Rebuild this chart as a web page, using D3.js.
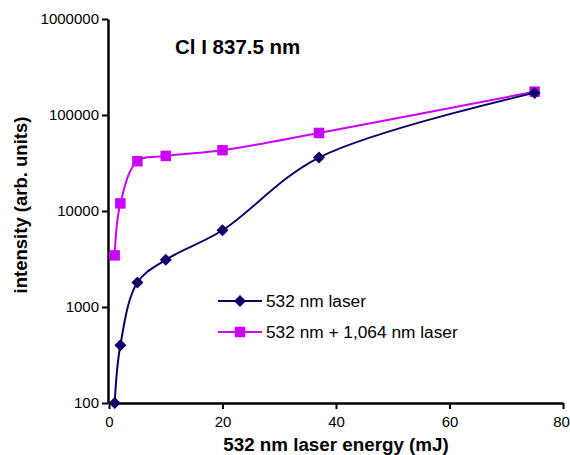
<!DOCTYPE html>
<html>
<head>
<meta charset="utf-8">
<script src="https://cdn.jsdelivr.net/npm/d3@7"></script>
<style>
  body { margin: 0; background: #fff; }
  svg { display: block; font-family: "Liberation Sans", Arial, sans-serif; }
</style>
</head>
<body>
<svg id="vis" width="570" height="455"></svg>
<script>
var energy = [1, 2, 5, 10, 20, 37, 75];
var single = [100, 400, 1800, 3100, 6300, 36000, 170000];
var dual = [3450, 12000, 33000, 37500, 43000, 65000, 175000];
var xTicks = [0, 20, 40, 60, 80];
var yTicks = [100, 1000, 10000, 100000, 1000000];

var prefs = {
  navy: '#0d0066',
  violet: '#cc00ff',
  left: 109,
  right: 563,
  top: 19,
  bottom: 403
};

var svg = d3.select('#vis');

var x = d3.scaleLinear().domain([0, 80]).range([prefs.left, prefs.right]);
var y = d3.scaleLog().domain([100, 1000000]).range([prefs.bottom, prefs.top]);

/* axes */
var xAxis = d3.axisBottom(x).tickValues(xTicks).tickSize(6).tickSizeOuter(0);
var yAxis = d3.axisLeft(y).tickValues(yTicks).tickSize(6).tickSizeOuter(0)
  .tickFormat(d3.format('d'));

var gx = svg.append('g')
  .attr('transform', 'translate(0,' + prefs.bottom + ')')
  .call(xAxis);
var gy = svg.append('g')
  .attr('transform', 'translate(' + (prefs.left - 1) + ',0)')
  .call(yAxis);

[gx, gy].forEach(function(g) {
  g.select('.domain').attr('stroke', '#000').attr('stroke-width', 2.5);
  g.selectAll('.tick line').attr('stroke', '#000').attr('stroke-width', 2);
  g.selectAll('.tick text').attr('fill', '#000').style('font-size', '15px');
});
gx.selectAll('.tick text').attr('dy', '1em').attr('y', 9);
gx.selectAll('.tick text').filter(function(d) { return d === 80; }).attr('x', -2);
gy.selectAll('.tick text').attr('x', -9);

/* axis titles */
svg.append('text')
  .attr('x', 336).attr('y', 451)
  .attr('text-anchor', 'middle')
  .style('font-weight', 'bold').style('font-size', '18.8px')
  .text('532 nm laser energy (mJ)');

svg.append('text')
  .attr('transform', 'translate(27,205) rotate(-90)')
  .attr('text-anchor', 'middle')
  .style('font-weight', 'bold').style('font-size', '18.5px')
  .text('intensity (arb. units)');

svg.append('text')
  .attr('x', 175).attr('y', 54)
  .style('font-weight', 'bold').style('font-size', '20.5px')
  .text('Cl I 837.5 nm');

/* series */
var line = d3.line()
  .x(function(d) { return x(d[0]); })
  .y(function(d) { return y(d[1]); })
  .curve(d3.curveCatmullRom.alpha(0.5));

var series = [
  { name: '532 nm laser', values: single, color: prefs.navy, rotate: 45, size: 72 },
  { name: '532 nm + 1,064 nm laser', values: dual, color: prefs.violet, rotate: 0, size: 110 }
];

function marker(s, cx, cy) {
  return 'translate(' + cx + ',' + cy + ') rotate(' + s.rotate + ')';
}

series.slice().reverse().forEach(function(s) {
  var pts = energy.map(function(e, i) { return [e, s.values[i]]; });

  svg.append('path')
    .datum(pts)
    .attr('d', line)
    .attr('fill', 'none')
    .attr('stroke', s.color)
    .attr('stroke-width', 2);

  svg.selectAll(null)
    .data(pts)
    .enter().append('path')
    .attr('d', d3.symbol().type(d3.symbolSquare).size(s.size))
    .attr('transform', function(d) { return marker(s, x(d[0]), y(d[1])); })
    .attr('fill', s.color);
});

/* legend */
var legend = svg.append('g');
series.forEach(function(s, i) {
  var ly = 301 + i * 31;
  legend.append('line')
    .attr('x1', 218).attr('x2', 262)
    .attr('y1', ly).attr('y2', ly)
    .attr('stroke', s.color).attr('stroke-width', 2);
  legend.append('path')
    .attr('d', d3.symbol().type(d3.symbolSquare).size(s.size))
    .attr('transform', marker(s, 240, ly))
    .attr('fill', s.color);
  legend.append('text')
    .attr('x', 266).attr('y', ly)
    .attr('dy', '0.35em')
    .style('font-size', '17.3px')
    .text(s.name);
});
</script>
</body>
</html>
